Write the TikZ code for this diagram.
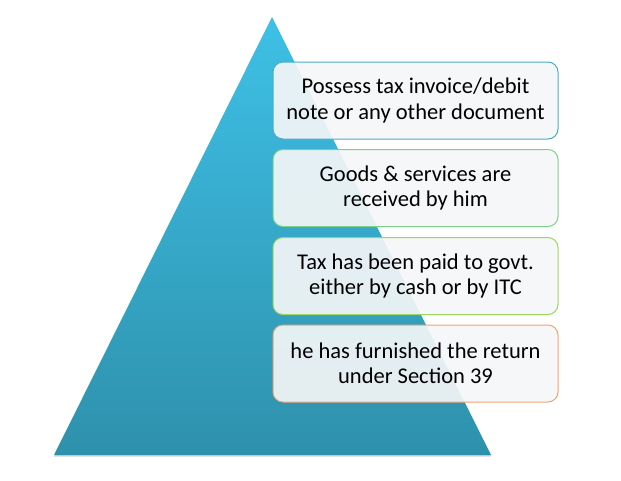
\documentclass[tikz,border=0pt]{standalone}
\usepackage{fontspec}
\setmainfont{Carlito}
\usetikzlibrary{shadows}
\definecolor{pyrtop}{HTML}{3EC0E6}
\definecolor{pyrbot}{HTML}{2E91AC}
\definecolor{boxfill}{HTML}{F4F6F7}
\definecolor{edge1}{HTML}{4BACC6}
\definecolor{edge2}{HTML}{7ECF8C}
\definecolor{edge3}{HTML}{9DD562}
\definecolor{edge4}{HTML}{EFA56F}
\begin{document}
\begin{tikzpicture}
[x=1pt, y=-1pt, line width=1pt,
pyramid/.style={top color=pyrtop, bottom color=pyrbot, draw=none, drop shadow={opacity=0.35, shadow xshift=0pt, shadow yshift=-1.5pt}},
cond/.style={rectangle, rounded corners=10pt, fill=boxfill, fill opacity=0.92, text opacity=1, minimum width=285pt, minimum height=77pt, align=center, font=\fontsize{22.5}{25.5}\selectfont, inner sep=0pt}]

\useasboundingbox (0,0) rectangle (621,480);

\path[pyramid] (272,17) -- (491,455) -- (54,455) -- cycle;

\node[cond, draw=edge1] (c1) at (415.5,100.5) {Possess tax invoice/debit\\note or any other document};
\node[cond, draw=edge2] (c2) at (415.5,188) {Goods \& services are\\received by him};
\node[cond, draw=edge3] (c3) at (415.5,276) {Tax has been paid to govt.\\either by cash or by ITC};
\node[cond, draw=edge4] (c4) at (415.5,363.5) {he has furnished the return\\under Section 39};
\end{tikzpicture}
\end{document}
